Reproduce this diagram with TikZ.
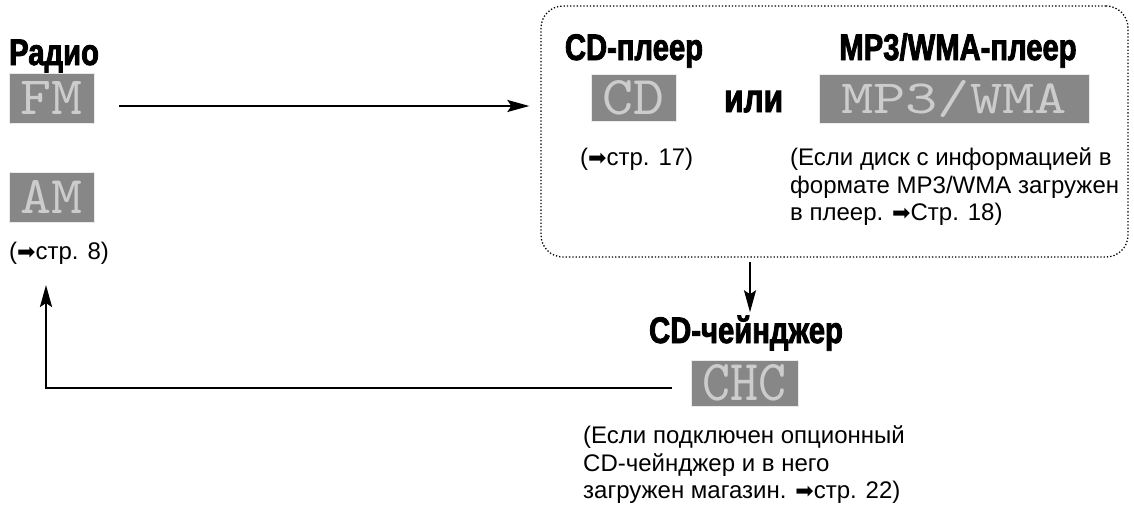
\documentclass[tikz,border=0pt]{standalone}
\usepackage{fontspec}
\usepackage{graphicx}
\setmainfont{Liberation Sans}
\newfontfamily\headfont[FakeStretch=0.79,FakeBold=2.2]{Liberation Sans Bold}
\newfontfamily\symfont{DejaVu Sans}
\usetikzlibrary{arrows.meta}
\newcommand\ptr{{\symfont\fontsize{22}{22}\selectfont ➡}}
\tikzset{
  ttl/.style={font=\headfont\fontsize{37}{40}\selectfont, inner sep=0pt, anchor=base west},
  note/.style={font=\fontsize{24}{27.5}\selectfont, inner sep=0pt, align=left, anchor=north west},
  lcd/.style={fill=black!47, draw=black!8, line width=0.8pt, inner sep=0pt, text=black!20, font=\ttfamily},
  arr/.style={line width=2pt, -{Stealth[length=22pt,width=12pt,inset=4pt]}},
  grpbox/.style={draw, dotted, line width=1.3pt, rounded corners=22pt, inner sep=0pt},
}
\begin{document}
\begin{tikzpicture}[x=1pt,y=-1pt]
\useasboundingbox (0,0) rectangle (1134,506);
% left column
\node[ttl] (radio) at (9,65) {Радио};
\node[lcd, minimum width=85pt, minimum height=50pt] (fm) at (51.5,98) {\resizebox{62pt}{33pt}{FM}};
\node[lcd, minimum width=85pt, minimum height=50pt] (am) at (51.5,197) {\resizebox{62pt}{33pt}{AM}};
\node[note] (p8) at (9,242) {(\ptr стр. 8)};
% group
\node[grpbox, minimum width=587pt, minimum height=251pt] (grp) at (834.5,131.5) {};
\node[ttl, anchor=base] (cdttl) at (634,60) {CD-плеер};
\node[lcd, minimum width=85pt, minimum height=47pt] (cd) at (633.5,97.5) {\resizebox{62pt}{34pt}{CD}};
\node[ttl, font=\headfont\fontsize{40}{44}\selectfont] (ili) at (724,112) {или};
\node[lcd, minimum width=270pt, minimum height=49pt] (mp3) at (954,98.5) {\resizebox{226pt}{33pt}{MP3/WMA}};
\node[ttl, anchor=base] (mp3ttl) at (958,60) {MP3/WMA-плеер};
\node[note] (p17) at (580,147.5) {(\ptr стр. 17)};
\node[note] (mp3note) at (790,147.5) {(Если диск с информацией в\\формате MP3/WMA загружен\\в плеер. \ptr Стр. 18)};
% changer
\node[ttl, anchor=base] (chttl) at (746,343) {CD-чейнджер};
\node[lcd, minimum width=107pt, minimum height=46pt] (chc) at (744.5,383) {\resizebox{84pt}{36pt}{CHC}};
\node[note] (chcnote) at (583,425.5) {(Если подключен опционный\\CD-чейнджер и в него\\загружен магазин. \ptr стр. 22)};
% connectors
\coordinate (a0) at ([xshift=25pt,yshift=-8pt]fm.east);
\draw[arr, shorten >=11pt] (a0) -- (a0 -| grp.west);
\coordinate (d0) at (750,0);
\draw[arr, shorten <=4pt, shorten >=3pt] (d0 |- grp.south) -- (d0 |- chttl.north);
\coordinate (r0) at ([xshift=-19pt,yshift=-5pt]chc.west);
\coordinate (r1) at (46,285);
\draw[arr, line width=2.6pt] (r0) -| (r1);
\end{tikzpicture}
\end{document}
